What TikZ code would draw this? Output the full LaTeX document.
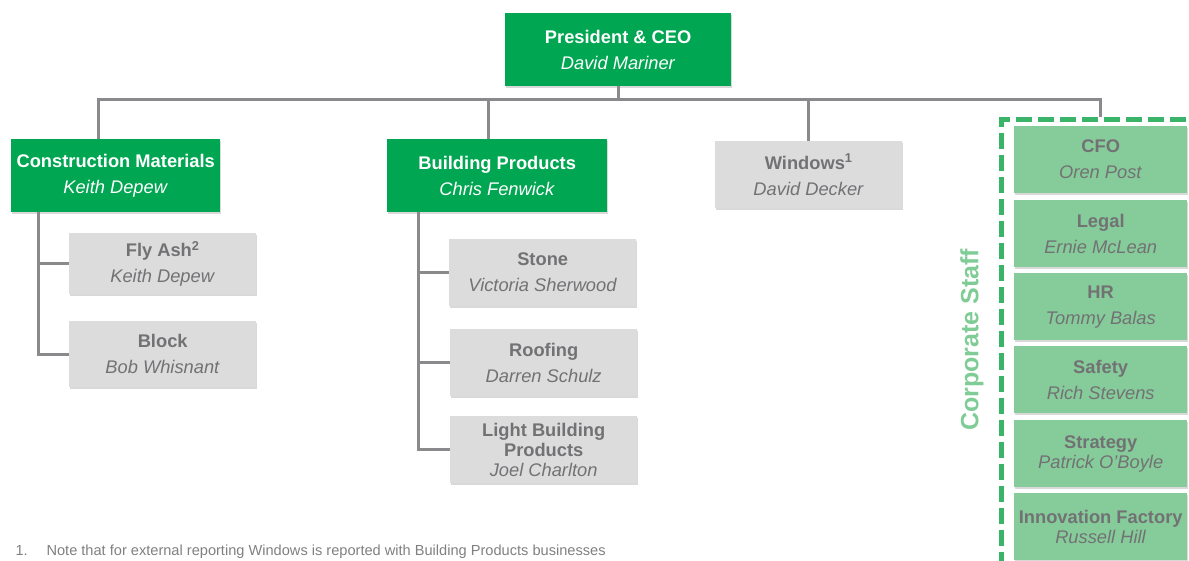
\documentclass[tikz,border=0pt]{standalone}
\usepackage{fontspec}
\setmainfont{Liberation Sans}
\usetikzlibrary{shadows}
\definecolor{headgreen}{RGB}{0,166,81}
\definecolor{staffgreen}{RGB}{134,203,154}
\definecolor{dashgreen}{RGB}{58,180,104}
\definecolor{labelgreen}{RGB}{128,204,150}
\definecolor{unitgrey}{RGB}{220,220,221}
\definecolor{linkgrey}{RGB}{138,138,140}
\definecolor{textgrey}{RGB}{114,114,116}
\definecolor{notegrey}{RGB}{128,128,128}
\begin{document}
\begin{tikzpicture}[x=1pt,y=-1pt,
  box/.style={anchor=north west,inner sep=0pt,align=center,
    font=\fontsize{18.3}{26}\selectfont,
    drop shadow={shadow xshift=1pt,shadow yshift=-2pt,opacity=.3}},
  headbox/.style={box,fill=headgreen,text=white},
  unitbox/.style={box,fill=unitgrey,text=textgrey,minimum width=187pt,minimum height=67pt},
  staffbox/.style={box,fill=staffgreen,text=textgrey,minimum width=173pt,minimum height=67pt},
  link/.style={draw=linkgrey,line width=3pt}]
\useasboundingbox (0,0) rectangle (1189,561);
\node[headbox,minimum width=226pt,minimum height=73pt] (ceo) at (505,13)
  {\textbf{President \& CEO}\\\textit{David Mariner}};
\node[headbox,minimum width=209pt,minimum height=73pt] (cm) at (11,139)
  {\textbf{Construction Materials}\\\textit{Keith Depew}};
\node[unitbox,minimum height=61pt] (flyash) at (69,233)
  {\textbf{Fly Ash\textsuperscript{2}}\\\textit{Keith Depew}};
\node[unitbox,minimum height=66pt] (block) at (69,321)
  {\textbf{Block}\\\textit{Bob Whisnant}};
\node[headbox,minimum width=220pt,minimum height=73pt] (bp) at (387,139)
  {\textbf{Building Products}\\\textit{Chris Fenwick}};
\node[unitbox] (stone) at (449,239)
  {\textbf{Stone}\\\textit{Victoria Sherwood}};
\node[unitbox] (roofing) at (450,329)
  {\textbf{Roofing}\\\textit{Darren Schulz}};
\node[unitbox,font=\fontsize{18.3}{20}\selectfont] (lbp) at (450,416)
  {\textbf{Light Building}\\\textbf{Products}\\\textit{Joel Charlton}};
\node[unitbox] (windows) at (715,141)
  {\textbf{Windows\textsuperscript{1}}\\\textit{David Decker}};
\node[anchor=north west,draw=dashgreen,line width=5pt,dash pattern=on 16pt off 6pt,
  minimum width=220pt,minimum height=470pt] (staff) at (999,117) {};
\node[rotate=90,text=labelgreen,font=\fontsize{25}{30}\selectfont\bfseries] (stafflabel)
  at (972,340) {Corporate Staff};
\node[staffbox] (cfo) at (1014,126) {\textbf{CFO}\\\textit{Oren Post}};
\node[staffbox] (legal) at (1014,200) {\textbf{Legal}\\\textit{Ernie McLean}};
\node[staffbox] (hr) at (1014,273) {\textbf{HR}\\\textit{Tommy Balas}};
\node[staffbox] (safety) at (1014,346) {\textbf{Safety}\\\textit{Rich Stevens}};
\node[staffbox,font=\fontsize{18.3}{20}\selectfont] (strategy) at (1014,420)
  {\textbf{Strategy}\\\textit{Patrick O'Boyle}};
\node[staffbox,font=\fontsize{18.3}{20}\selectfont] (innovation) at (1014,493)
  {\textbf{Innovation Factory}\\\textit{Russell Hill}};
\node[anchor=base west,text=notegrey,font=\fontsize{14.6}{16}\selectfont] (notenum)
  at (12,555) {1.};
\node[anchor=base west,text=notegrey,font=\fontsize{14.6}{16}\selectfont] (note)
  at (43,555) {Note that for external reporting Windows is reported with Building Products businesses};
\coordinate (busL) at (98,100);
\coordinate (busR) at (1100,100);
\coordinate (bpdrop) at (488,100);
\coordinate (cmbar) at (38,0);
\coordinate (bpbar) at (418,0);
\draw[link] (busL |- cm.north) -- (busL) -- (busR) -- (busR |- staff.north);
\draw[link] (ceo.south) -- (ceo.south |- busL);
\draw[link] (bpdrop) -- (bpdrop |- bp.north);
\draw[link] (windows.north |- busL) -- (windows.north);
\draw[link] (cmbar |- cm.south) |- (block.west);
\draw[link] (cmbar |- flyash.west) -- (flyash.west);
\draw[link] (bpbar |- bp.south) |- (lbp.west);
\draw[link] (bpbar |- stone.west) -- (stone.west);
\draw[link] (bpbar |- roofing.west) -- (roofing.west);
\end{tikzpicture}
\end{document}
